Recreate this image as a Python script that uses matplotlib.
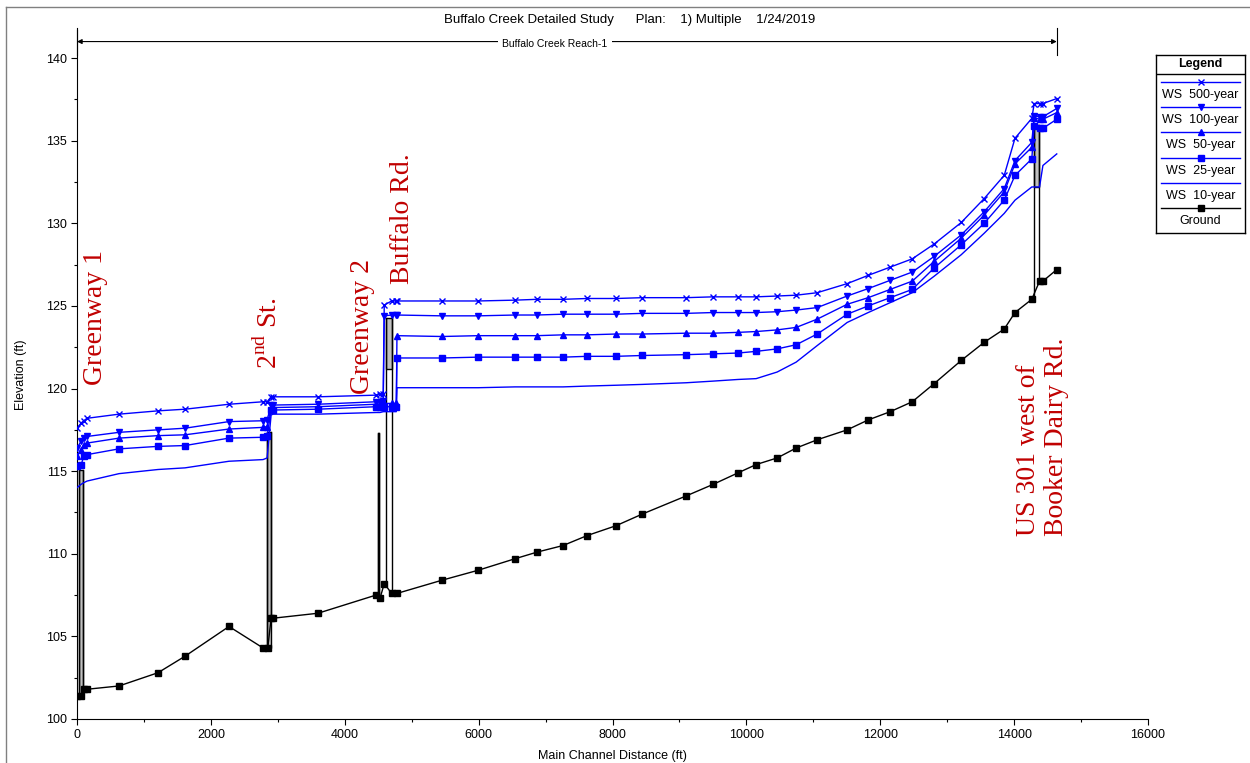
import matplotlib
matplotlib.use("Agg")
import matplotlib.pyplot as plt
from matplotlib.lines import Line2D
from matplotlib.patches import Rectangle

plt.rcParams['font.family'] = ['Liberation Sans', 'DejaVu Sans']
plt.rcParams['mathtext.fontset'] = 'custom'
plt.rcParams['mathtext.rm'] = 'Liberation Serif'

# ---------------- data ----------------
# water-surface cross-section stations (ft)
ws_station = [0, 60, 100, 150, 628, 1210, 1614, 2271, 2779, 2840, 2900, 2930, 3600,
              4467, 4527, 4575, 4590, 4700, 4770, 4780, 5453, 5991, 6544, 6873, 7262,
              7620, 8054, 8443, 9100, 9503, 9877, 10146, 10460, 10744, 11058, 11506,
              11820, 12149, 12478, 12806, 13210, 13553, 13852, 14013, 14264, 14300,
              14380, 14430, 14637]

ws_500 = [117.6, 117.9, 118.05, 118.2, 118.45, 118.65, 118.75, 119.05, 119.2, 119.2, 119.5, 119.5, 119.5,
          119.6, 119.65, 119.7, 125.05, 125.3, 125.3, 125.3, 125.3, 125.3, 125.35, 125.4, 125.4,
          125.45, 125.45, 125.5, 125.5, 125.55, 125.55, 125.55, 125.6, 125.65, 125.8, 126.35,
          126.85, 127.35, 127.85, 128.75, 130.05, 131.5, 132.9, 135.15, 136.35, 137.25,
          137.25, 137.25, 137.55]
ws_100 = [116.4, 116.8, 117.0, 117.1, 117.35, 117.5, 117.6, 118.0, 118.05, 118.1, 119.0, 119.0, 119.05,
          119.2, 119.2, 119.25, 124.4, 124.45, 124.45, 124.45, 124.4, 124.4, 124.45, 124.45, 124.5,
          124.5, 124.5, 124.55, 124.55, 124.6, 124.6, 124.6, 124.65, 124.75, 124.9, 125.6,
          126.05, 126.55, 127.05, 128.0, 129.3, 130.7, 132.1, 133.8, 134.9, 136.5,
          136.45, 136.45, 136.95]
ws_50 = [115.9, 116.3, 116.6, 116.7, 117.0, 117.15, 117.2, 117.55, 117.65, 117.7, 118.85, 118.85, 118.9,
         119.05, 119.05, 119.1, 119.1, 119.1, 119.1, 123.2, 123.15, 123.2, 123.2, 123.2, 123.25,
         123.25, 123.3, 123.3, 123.35, 123.35, 123.4, 123.45, 123.55, 123.7, 124.2, 125.1,
         125.5, 126.0, 126.5, 127.7, 129.1, 130.5, 131.9, 133.6, 134.6, 136.4,
         136.3, 136.3, 136.7]
ws_25 = [115.3, 115.35, 115.9, 116.0, 116.35, 116.5, 116.55, 117.0, 117.05, 117.1, 118.7, 118.7, 118.75,
         118.9, 118.9, 118.9, 118.9, 118.9, 118.9, 121.85, 121.85, 121.9, 121.9, 121.9, 121.9,
         121.95, 121.95, 122.0, 122.05, 122.1, 122.15, 122.25, 122.4, 122.65, 123.3, 124.5,
         125.0, 125.5, 126.0, 127.3, 128.7, 130.0, 131.4, 132.9, 133.9, 135.9,
         135.75, 135.75, 136.3]
ws_10 = [114.0, 114.2, 114.3, 114.4, 114.85, 115.1, 115.2, 115.6, 115.7, 115.8, 118.4, 118.45, 118.45,
         118.55, 118.55, 118.6, 118.6, 118.6, 118.6, 120.05, 120.05, 120.05, 120.1, 120.1, 120.1,
         120.15, 120.2, 120.25, 120.35, 120.45, 120.55, 120.6, 121.0, 121.6, 122.6, 124.0,
         124.6, 125.2, 125.8, 126.8, 128.1, 129.4, 130.6, 131.4, 132.2, 132.2,
         132.2, 133.5, 134.2]

ground_station = [0, 60, 100, 150, 628, 1210, 1614, 2271, 2779, 2850, 2900, 2930, 3600,
                  4467, 4527, 4590, 4700, 4780, 5453, 5991, 6544, 6873, 7262, 7620, 8054,
                  8443, 9100, 9503, 9877, 10146, 10460, 10744, 11058, 11506, 11820, 12149,
                  12478, 12806, 13210, 13553, 13852, 14013, 14264, 14380, 14430, 14637]
ground_elev = [101.4, 101.4, 101.8, 101.8, 102.0, 102.8, 103.8, 105.6, 104.3, 104.3, 106.1, 106.1, 106.4,
               107.5, 107.3, 108.2, 107.6, 107.6, 108.4, 109.0, 109.7, 110.1, 110.5, 111.1, 111.7,
               112.4, 113.5, 114.2, 114.9, 115.4, 115.8, 116.4, 116.9, 117.5, 118.1, 118.6,
               119.2, 120.3, 121.7, 122.8, 123.6, 124.6, 125.4, 126.5, 126.5, 127.2]

# bridge structures: left/right station, high chord, low chord, ground at each side
bridge_left = [30, 2845, 4495, 4615, 14290]
bridge_right = [85, 2905, 4510, 4710, 14375]
bridge_high = [115.1, 117.35, 117.3, 124.25, 135.95]
bridge_low = [101.4, 104.3, 107.4, 121.2, 132.2]
bridge_gnd_l = [101.4, 104.3, 107.4, 108.2, 125.3]
bridge_gnd_r = [101.6, 106.1, 107.4, 107.6, 126.5]

profile_names = ['WS  500-year', 'WS  100-year', 'WS  50-year', 'WS  25-year', 'WS  10-year']
profile_values = [ws_500, ws_100, ws_50, ws_25, ws_10]
profile_markers = ['x', 'v', '^', 's', None]

# structure labels: text, station, bottom elevation
label_text = ['Greenway 1', '2$^{\\mathrm{nd}}$ St.', 'Greenway 2', 'Buffalo Rd.',
              'US 301 west of\nBooker Dairy Rd.']
label_x = [275, 2860, 4260, 4860, 14420]
label_y = [120.2, 121.2, 119.7, 126.3, 111.1]

BLUE = '#0000FF'
RED = '#C00000'

fig = plt.figure(figsize=(12.5, 7.63), dpi=100)
ax = fig.add_axes([77 / 1250, 1 - 719 / 763, (1148 - 77) / 1250, (719 - 30) / 763])

# bridges
for xl, xr, hc, lc, gl, gr in zip(bridge_left, bridge_right, bridge_high, bridge_low,
                                  bridge_gnd_l, bridge_gnd_r):
    ax.add_patch(Rectangle((xl, lc), xr - xl, hc - lc, facecolor='#C0C0C0',
                           edgecolor='black', linewidth=1.0, zorder=2))
    ax.plot([xl, xl], [gl, hc], color='black', lw=1.0, zorder=2)
    ax.plot([xr, xr], [gr, hc], color='black', lw=1.0, zorder=2)

# ground profile
ax.plot(ground_station, ground_elev, color='black', lw=1.0, marker='s', ms=4.8,
        zorder=3)

# water surface profiles
for vals, mk in zip(profile_values, profile_markers):
    ax.plot(ws_station, vals, color=BLUE, lw=1.0, marker=mk, ms=4.5,
            mew=1.0, zorder=4)

ax.set_xlim(0, 16000)
ax.set_ylim(100, 141.7)
ax.spines['top'].set_visible(False)
ax.spines['right'].set_visible(False)
ax.set_xticks(range(0, 16001, 2000))
ax.set_xticks(range(0, 16001, 1000), minor=True)
ax.set_yticks(range(100, 141, 5))
ax.set_yticks([100 + 2.5 * i for i in range(17)], minor=True)
ax.tick_params(which='major', direction='out', length=4, width=0.8, labelsize=9, pad=3)
ax.tick_params(which='minor', direction='out', length=2.5, width=0.8)
ax.set_xlabel('Main Channel Distance (ft)', fontsize=9, labelpad=7)
ax.set_ylabel('Elevation (ft)', fontsize=9, labelpad=14)

# reach arrow
reach_start, reach_end = ws_station[0], ws_station[-1]
ax.annotate('', xy=(reach_end, 141.0), xytext=(reach_start, 141.0),
            arrowprops=dict(arrowstyle='<|-|>', color='black', lw=0.8,
                            mutation_scale=7, shrinkA=0, shrinkB=0))
ax.plot([reach_start, reach_start], [140.2, 141.8], color='black', lw=0.8, clip_on=False)
ax.plot([reach_end, reach_end], [140.2, 141.8], color='black', lw=0.8, clip_on=False)
ax.text((reach_start + reach_end) / 2 - 180, 140.85, 'Buffalo Creek Reach-1', fontsize=7.5,
        ha='center', va='center', bbox=dict(facecolor='white', edgecolor='none', pad=3))

# structure labels
for t, x, y in zip(label_text, label_x, label_y):
    ax.text(x, y, t, rotation=90, color=RED, fontsize=20, family='Liberation Serif',
            ha='center', va='bottom', multialignment='left', linespacing=1.15, zorder=5)

fig.text(630 / 1250, 1 - 20 / 763,
         'Buffalo Creek Detailed Study      Plan:    1) Multiple    1/24/2019',
         ha='center', va='center', fontsize=9.5)

# outer frame lines
fig.add_artist(Line2D([6 / 1250, 6 / 1250], [0, 1 - 7 / 763], color='#808080', lw=1.0))
fig.add_artist(Line2D([6 / 1250, 1], [1 - 7 / 763, 1 - 7 / 763], color='#808080', lw=1.0))

# legend box
lg = fig.add_axes([1156 / 1250, 1 - 233 / 763, 89 / 1250, 178 / 763])
lg.set_xlim(0, 89)
lg.set_ylim(178, 0)
lg.set_xticks([])
lg.set_yticks([])
for s in lg.spines.values():
    s.set_linewidth(1.0)
lg.text(44.5, 9, 'Legend', ha='center', va='center', fontsize=9, fontweight='bold')
lg.plot([0, 89], [19, 19], color='black', lw=1.0)
legend_names = profile_names + ['Ground']
legend_markers = profile_markers + ['s']
legend_colors = [BLUE] * 5 + ['black']
for i, (name, mk, c) in enumerate(zip(legend_names, legend_markers, legend_colors)):
    yl = 27 + 25.2 * i
    lg.plot([5, 84], [yl, yl], color=c, lw=1.0)
    if mk is not None:
        lg.plot([44.5], [yl], color=c, marker=mk, ms=4.5, mew=1.0)
    lg.text(44.5, yl + 13, name, ha='center', va='center', fontsize=9)

fig.savefig('out.png', dpi=100)
